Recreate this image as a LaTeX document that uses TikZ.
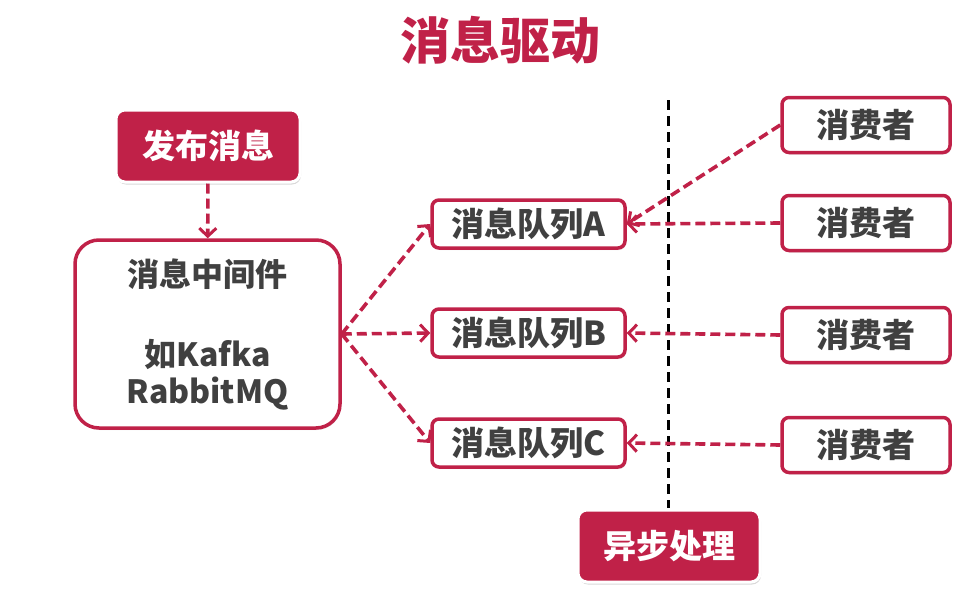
\documentclass[tikz,border=0pt]{standalone}
\usepackage{fontspec}
\setmainfont{Noto Sans CJK SC}
\usetikzlibrary{arrows.meta,positioning,shadows}
\definecolor{MsgRed}{RGB}{192,33,72}
\definecolor{TextGray}{RGB}{64,64,64}

\tikzset{
  redbox/.style={rounded corners=9pt,fill=MsgRed,draw=white,line width=3pt,text=white,
    inner sep=0pt,minimum height=72pt,font=\fontsize{33}{38}\selectfont\bfseries,
    drop shadow={opacity=.3,shadow xshift=1pt,shadow yshift=-2.5pt}},
  whitebox/.style={rounded corners=7pt,fill=white,draw=MsgRed,line width=3.5pt,text=TextGray,
    inner sep=0pt,font=\fontsize{33}{38}\selectfont\bfseries,
    drop shadow={opacity=.2,shadow xshift=1pt,shadow yshift=-2pt}},
  flow/.style={MsgRed,line width=3.6pt,dash pattern=on 10pt off 5pt,
    -{Straight Barb[length=8pt,width=17pt,line width=3pt]}}
}

\begin{document}
\begin{tikzpicture}[x=1pt,y=-1pt]
\useasboundingbox (0,0) rectangle (975,592);
\node[MsgRed,font=\fontsize{50}{56}\selectfont\bfseries] (title) at (500,40) {消息驱动};

\node[redbox,minimum width=184pt] (pub) at (208,146) {发布消息};
\node[whitebox,rounded corners=24pt,minimum width=265pt,minimum height=188pt,align=center,
  font=\fontsize{32}{37}\selectfont\bfseries] (mq) at (207.5,334)
  {消息中间件\\[43pt]如Kafka\\RabbitMQ};

\node[whitebox,minimum width=193pt,minimum height=48pt] (qa) at (528.5,224) {消息队列A};
\node[whitebox,minimum width=193pt,minimum height=48pt] (qb) at (528.5,333) {消息队列B};
\node[whitebox,minimum width=193pt,minimum height=48pt] (qc) at (528.5,443) {消息队列C};

\foreach \n/\y in {1/125,2/223,3/335,4/445}{
  \node[whitebox,minimum width=168pt,minimum height=55pt] (c\n) at (866,\y) {消费者};}

\node[redbox,minimum width=182pt] (async) at (669,546) {异步处理};

% dashed divider
\coordinate (top) at (668,100);
\coordinate (bot) at (668,508);
\draw[black,line width=3pt,dash pattern=on 10pt off 6pt] (top) -- (bot);

\draw[flow] (pub) -- (mq);
\foreach \q in {qa,qb,qc}{\draw[flow] (mq.east) -- (\q.west);}
\draw[flow] (c1.west) -- (qa.east);
\draw[flow] (c2.west) -- (qa.east);
\draw[flow] (c3.west) -- (qb.east);
\draw[flow] (c4.west) -- (qc.east);
\end{tikzpicture}
\end{document}
